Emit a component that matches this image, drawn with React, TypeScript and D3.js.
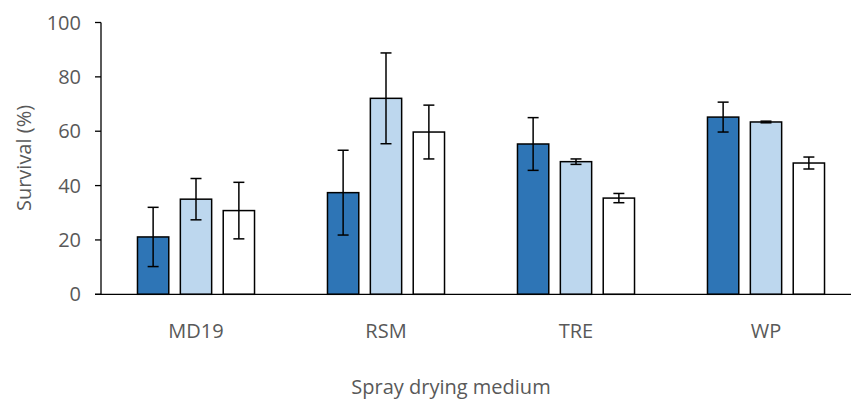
import { scaleBand, scaleLinear } from "d3";

const categories = ["MD19", "RSM", "TRE", "WP"];
const seriesNames = ["A", "B", "C"];
const means = [
  [21.1, 35.0, 30.8],
  [37.4, 72.1, 59.7],
  [55.3, 48.8, 35.4],
  [65.2, 63.4, 48.3],
];
const errors = [
  [10.9, 7.6, 10.4],
  [15.6, 16.7, 9.9],
  [9.7, 1.0, 1.7],
  [5.5, 0.3, 2.2],
];
const yTicks = [0, 20, 40, 60, 80, 100];
const colors = ["#2E75B6", "#BDD7EE", "#FFFFFF"];

const width = 851;
const height = 403;
const font = "'Open Sans', sans-serif";
const fontSize = 20;
const textColor = "#595959";

const App = () => {
  const x = scaleBand<string>().domain(categories).range([101, 861]).paddingInner(0.384).paddingOuter(0.192);
  // inner band per group
  const x1 = scaleBand<string>().domain(seriesNames).range([0, x.bandwidth()]).paddingInner(0.27);
  const y = scaleLinear().domain([0, 100]).range([294.3, 22.5]);
  const cap = 5.5;

  return (
    <svg width={width} height={height} style={{ position: "absolute", left: 0, top: 0 }}>
      <rect width={width} height={height} fill="#fff" />
      {/* y axis */}
      <line x1={101} x2={101} y1={y(100)} y2={y(0)} stroke="#000" strokeWidth={1.3} />
      {yTicks.map((t) => (
        <g key={t}>
          <line x1={95} x2={101} y1={y(t)} y2={y(t)} stroke="#000" strokeWidth={1.3} />
          <text x={81} y={y(t)} dy="0.35em" textAnchor="end" fontFamily={font} fontSize={fontSize} fill={textColor}>
            {t}
          </text>
        </g>
      ))}
      {categories.map((c, i) => (
        <g key={c} transform={`translate(${x(c)},0)`}>
          {seriesNames.map((s, j) => {
            const bx = x1(s)!;
            const bw = x1.bandwidth();
            const cx = bx + bw / 2;
            const v = means[i][j];
            const e = errors[i][j];
            return (
              <g key={s}>
                <rect x={bx} y={y(v)} width={bw} height={y(0) - y(v)} fill={colors[j]} stroke="#000" strokeWidth={1.5} />
                <line x1={cx} x2={cx} y1={y(v + e)} y2={y(v - e)} stroke="#000" strokeWidth={1.5} />
                <line x1={cx - cap} x2={cx + cap} y1={y(v + e)} y2={y(v + e)} stroke="#000" strokeWidth={1.5} />
                <line x1={cx - cap} x2={cx + cap} y1={y(v - e)} y2={y(v - e)} stroke="#000" strokeWidth={1.5} />
              </g>
            );
          })}
          <text x={x.bandwidth() / 2} y={331} dy="0.35em" textAnchor="middle" fontFamily={font} fontSize={fontSize} fill={textColor}>
            {c}
          </text>
        </g>
      ))}
      {/* x axis */}
      <line x1={95} x2={851} y1={y(0)} y2={y(0)} stroke="#000" strokeWidth={1.3} />
      <text x={451} y={387} dy="0.35em" textAnchor="middle" fontFamily={font} fontSize={fontSize} fill={textColor}>
        Spray drying medium
      </text>
      <text
        transform={`translate(24,158) rotate(-90)`}
        textAnchor="middle"
        dy="0.35em"
        fontFamily={font}
        fontSize={fontSize}
        fill={textColor}
      >
        Survival (%)
      </text>
    </svg>
  );
};

export default App;
